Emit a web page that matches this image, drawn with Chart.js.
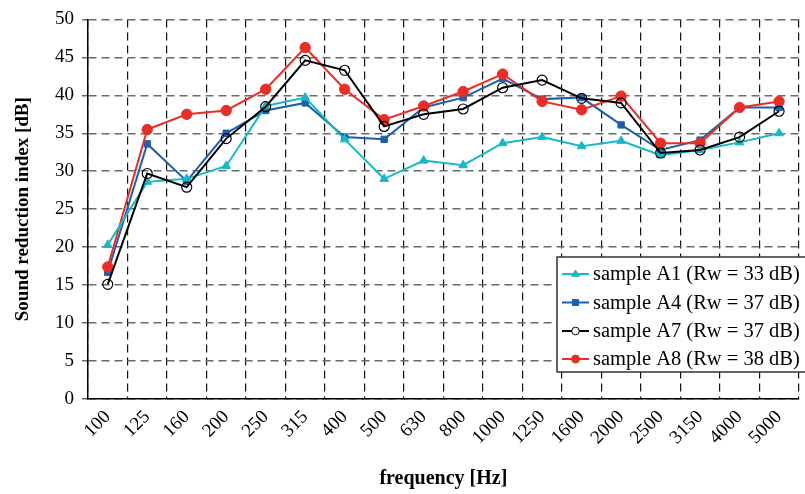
<!DOCTYPE html>
<html>
<head>
<meta charset="utf-8">
<script src="https://cdn.jsdelivr.net/npm/chart.js@4.4.1/dist/chart.umd.min.js"></script>
<style>
  html,body{margin:0;padding:0;background:#fff;}
  #wrap{width:805px;height:494px;position:relative;}
</style>
</head>
<body>
<div id="wrap"><canvas id="c" width="805" height="494"></canvas></div>
<script>
const categories = ['100','125','160','200','250','315','400','500','630','800','1000','1250','1600','2000','2500','3150','4000','5000'];
const seriesNames = ['sample A1 (Rw = 33 dB)','sample A4 (Rw = 37 dB)','sample A7 (Rw = 37 dB)','sample A8 (Rw = 38 dB)'];
const a1 = [20.3,28.6,29.0,30.7,38.6,39.7,34.2,29.0,31.4,30.8,33.7,34.5,33.3,34.0,32.1,32.8,33.8,35.0];
const a4 = [16.7,33.6,28.7,35.0,38.0,39.0,34.5,34.2,38.4,39.7,42.2,39.5,39.7,36.1,32.8,34.1,38.4,38.4];
const a7 = [15.1,29.7,27.9,34.3,38.5,44.6,43.3,35.9,37.5,38.2,41.0,42.0,39.6,39.0,32.4,32.8,34.5,37.9];
const a8 = [17.4,35.5,37.5,38.0,40.8,46.3,40.8,36.8,38.6,40.5,42.8,39.2,38.1,39.9,33.7,33.7,38.4,39.2];
const yMin = 0, yMax = 50, yStep = 5;

const SERIF = '"Liberation Serif", "Times New Roman", serif';
const cCyan = '#17b9c7', cBlue = '#1c5fae', cBlack = '#000000', cRed = '#ec2d26';

const datasets = [
  {label: seriesNames[0], data: a1, borderColor: cCyan, backgroundColor: cCyan, pointStyle: 'triangle', pointRadius: 5, pointBorderWidth: 1, borderWidth: 2, order: 1},
  {label: seriesNames[1], data: a4, borderColor: cBlue, backgroundColor: cBlue, pointStyle: 'rect', pointRadius: 4.5, pointBorderWidth: 1, borderWidth: 2, order: 3},
  {label: seriesNames[2], data: a7, borderColor: cBlack, backgroundColor: 'rgba(0,0,0,0)', pointStyle: 'circle', pointRadius: 5, pointBorderWidth: 1.2, borderWidth: 2, order: 0},
  {label: seriesNames[3], data: a8, borderColor: cRed, backgroundColor: cRed, pointStyle: 'circle', pointRadius: 5.2, pointBorderWidth: 1, borderWidth: 2, order: 2}
];
datasets.forEach(d => { d.tension = 0; d.fill = false; d.pointHoverRadius = d.pointRadius; });

function drawMarker(ctx, style, x, y, r, fill, stroke, lw) {
  ctx.save();
  ctx.beginPath();
  if (style === 'triangle') {
    ctx.moveTo(x, y - r);
    ctx.lineTo(x + r * 0.866 * 1.15, y + r * 0.5 * 1.15);
    ctx.lineTo(x - r * 0.866 * 1.15, y + r * 0.5 * 1.15);
    ctx.closePath();
  } else if (style === 'rect') {
    const s = r * 0.75;
    ctx.rect(x - s, y - s, 2 * s, 2 * s);
  } else {
    ctx.arc(x, y, r, 0, Math.PI * 2);
  }
  ctx.fillStyle = fill; ctx.fill();
  ctx.lineWidth = lw; ctx.strokeStyle = stroke; ctx.stroke();
  ctx.restore();
}

const legendPlugin = {
  id: 'insideLegend',
  afterDraw(chart) {
    const ctx = chart.ctx;
    const bx = 557, by = 257, bw = 270, bh = 115;
    ctx.save();
    ctx.fillStyle = '#fff';
    ctx.fillRect(bx, by, bw, bh);
    ctx.lineWidth = 1.5;
    ctx.strokeStyle = '#333';
    ctx.strokeRect(bx, by, bw, bh);
    const rows = [274, 302.5, 331, 359];
    chart.data.datasets.forEach((ds, i) => {
      const y = rows[i];
      ctx.beginPath();
      ctx.moveTo(562, y); ctx.lineTo(589, y);
      ctx.lineWidth = 2; ctx.strokeStyle = ds.borderColor; ctx.stroke();
      const r = ds.pointStyle === 'circle' && i === 2 ? 3.8 : 4;
      drawMarker(ctx, ds.pointStyle, 575.5, y, r, i === 2 ? '#fff' : ds.backgroundColor, ds.borderColor, 1);
      ctx.fillStyle = '#000';
      ctx.font = '20.5px ' + SERIF;
      ctx.textBaseline = 'middle';
      ctx.textAlign = 'left';
      ctx.fillText(ds.label, 593, y + 1);
    });
    ctx.restore();
  }
};

new Chart(document.getElementById('c'), {
  type: 'line',
  data: {labels: categories, datasets: datasets},
  plugins: [legendPlugin],
  options: {
    responsive: false,
    devicePixelRatio: 1,
    animation: false,
    layout: {padding: {left: 0, right: -8, top: 19, bottom: 0}},
    plugins: {legend: {display: false}, tooltip: {enabled: false}},
    scales: {
      x: {
        type: 'category',
        offset: true,
        grid: {color: '#111', lineWidth: 1.2, offset: true, drawTicks: false, tickLength: 0},
        border: {display: true, color: '#000', width: 1.5, dash: [8, 5]},
        ticks: {color: '#000', font: {family: SERIF, size: 19}, minRotation: 45, maxRotation: 45, padding: 7, autoSkip: false},
        title: {display: true, text: 'frequency [Hz]', color: '#000', font: {family: SERIF, size: 20, weight: 'bold'}, padding: {top: 0, bottom: 3}},
        afterFit(s) { s.height = 95; }
      },
      y: {
        min: yMin, max: yMax,
        ticks: {stepSize: yStep, color: '#000', font: {family: SERIF, size: 19}, padding: 8},
        grid: {color: '#6a6a6a', lineWidth: 1.5, tickLength: 6, drawTicks: true},
        border: {display: true, color: '#000', width: 1.5, dash: [8, 5]},
        title: {display: true, text: 'Sound reduction index [dB]', color: '#000', font: {family: SERIF, size: 19, weight: 'bold'}, padding: {top: 12, bottom: 0}},
        afterFit(s) { s.width = 88; }
      }
    }
  }
});
</script>
</body>
</html>
